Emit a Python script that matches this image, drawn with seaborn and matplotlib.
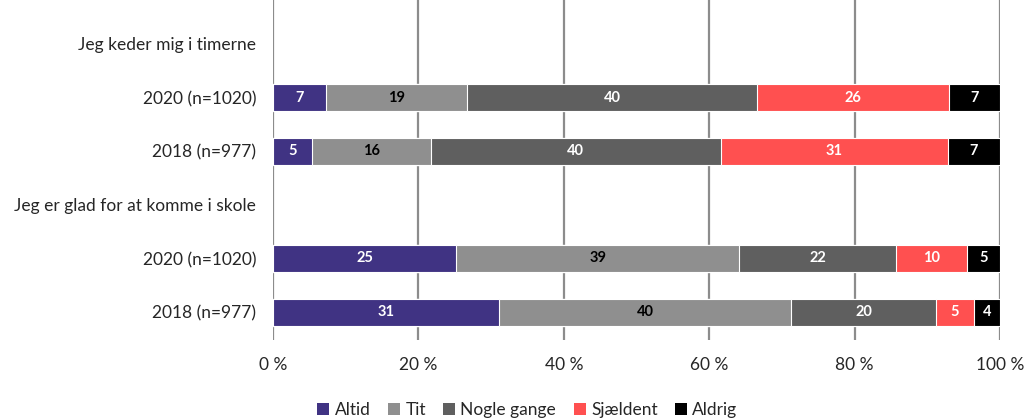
import numpy as np
import pandas as pd
import matplotlib
matplotlib.use("Agg")
import matplotlib.pyplot as plt
import seaborn as sns

# rows, top to bottom (header rows carry no bar)
row_labels = ["Jeg keder mig i timerne", "2020 (n=1020)", "2018 (n=977)",
              "Jeg er glad for at komme i skole", "2020 (n=1020)", "2018 (n=977)"]
bar_rows = [1, 2, 4, 5]

answers = ["Altid", "Tit", "Nogle gange", "Sjældent", "Aldrig"]
altid = [7.3, 5.4, 25.2, 31.1]
tit = [19.4, 16.3, 38.9, 40.2]
nogle = [39.9, 39.9, 21.6, 19.9]
sjaeldent = [26.4, 31.2, 9.7, 5.2]
aldrig = [7.0, 7.2, 4.6, 3.6]

colors = ["#403383", "#8f8f8f", "#5f5f5f", "#ff5050", "#000000"]
text_colors = ["white", "black", "white", "white", "white"]

sns.set_style("white")
plt.rcParams["font.family"] = ["Lato", "DejaVu Sans"]

row_ids = ["r%d" % i for i in range(len(row_labels))]
df = pd.DataFrame({
    "row": [row_ids[i] for i in bar_rows],
    "Altid": altid, "Tit": tit, "Nogle gange": nogle,
    "Sjældent": sjaeldent, "Aldrig": aldrig,
})
cum = df[answers].cumsum(axis=1)

fig = plt.figure(figsize=(10.26, 4.19), dpi=100)
ax = fig.add_axes([273 / 1026, 1 - 340 / 419, 727 / 1026, 340 / 419])

# overdraw cumulative bars, widest first
for ans, col in reversed(list(zip(answers, colors))):
    sns.barplot(x=cum[ans], y=df["row"], order=row_ids, orient="h", color=col,
                width=0.5, edgecolor="white", linewidth=0.8, saturation=1,
                label=ans, ax=ax, zorder=3)

# segment labels
for k, ans in enumerate(answers):
    starts = cum[ans] - df[ans]
    for r, s, v in zip(bar_rows, starts, df[ans]):
        ax.text(s + v / 2, r, "%d" % round(v), ha="center", va="center",
                color=text_colors[k], fontsize=10.5, fontweight="bold", zorder=4)

ax.set_xlim(0, 100)
ax.set_ylim(5.52, -0.82)
ax.set_xticks(np.arange(0, 101, 20))
ax.set_xticklabels(["%d %%" % t for t in range(0, 101, 20)], fontsize=12.5)
ax.set_yticks(range(len(row_labels)))
ax.set_yticklabels(row_labels, fontsize=12.5)
ax.tick_params(axis="both", length=0, pad=12)
ax.tick_params(axis="y", pad=12)
ax.set_xlabel("")
ax.set_ylabel("")
ax.xaxis.grid(True, color="#8c8c8c", linewidth=1.6)
ax.yaxis.grid(False)
ax.set_axisbelow(True)
sns.despine(ax=ax, left=True, bottom=True)

handles, labels = ax.get_legend_handles_labels()
if ax.legend_ is not None:
    ax.legend_.remove()
leg = fig.legend(handles[::-1], labels[::-1], loc="lower center",
                 bbox_to_anchor=(0.514, -0.035), ncol=5, frameon=False,
                 fontsize=12.5, handlelength=0.7, handleheight=0.7,
                 handletextpad=0.3, columnspacing=1.0)
for h in leg.legend_handles:
    h.set_edgecolor("none")

fig.savefig("out.png", dpi=100)
